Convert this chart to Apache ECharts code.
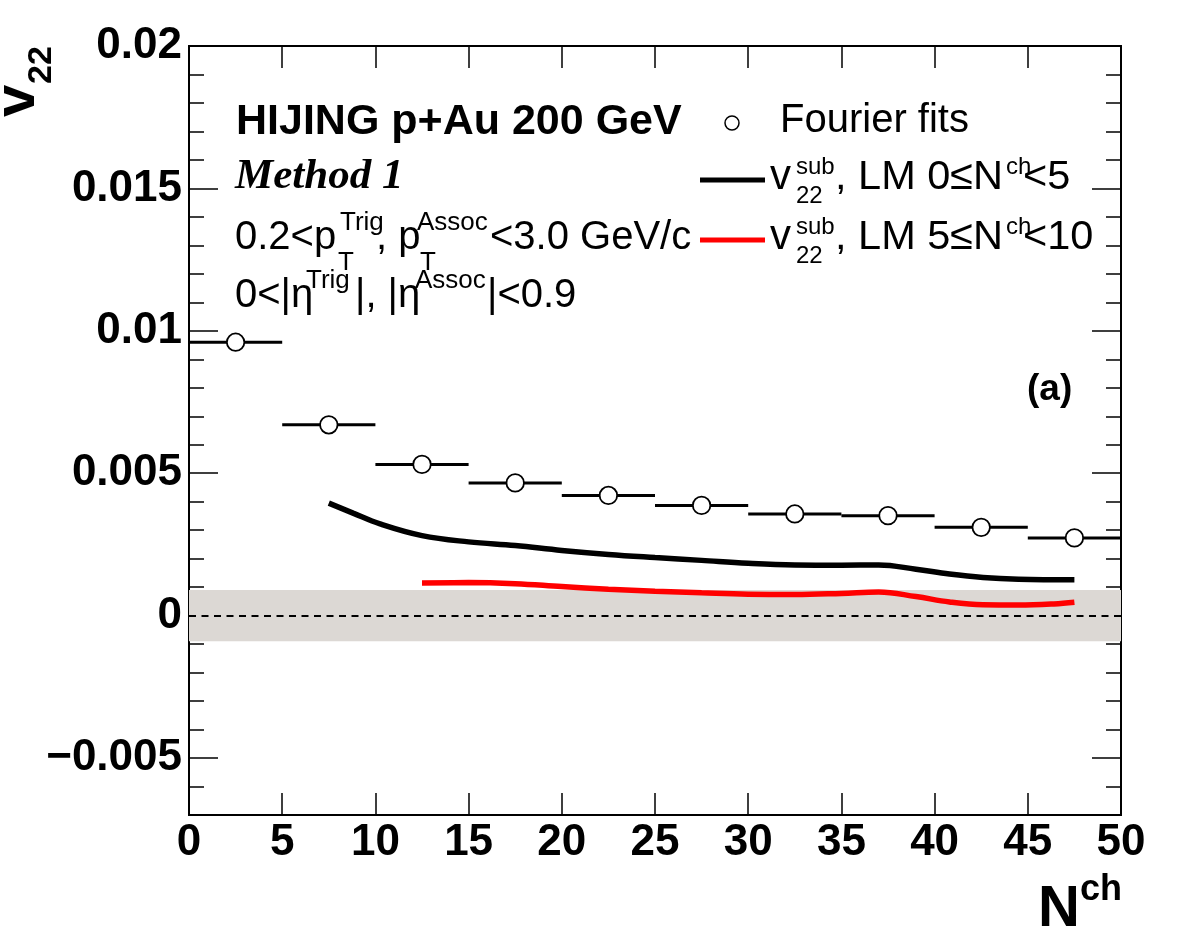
<!DOCTYPE html>
<html>
<head>
<meta charset="utf-8">
<title>v22 vs Nch - HIJING p+Au</title>
<script src="https://cdn.jsdelivr.net/npm/echarts@6/dist/echarts.min.js"></script>
<style>
  html, body { margin: 0; padding: 0; background: #fff; }
  #chart { width: 1182px; height: 938px; }
</style>
</head>
<body>
<div id="chart"></div>
<script>
// Fourier fit points (bin centres, half bin width, value, stat error)
const binCenters = [2.5, 7.5, 12.5, 17.5, 22.5, 27.5, 32.5, 37.5, 42.5, 47.5];
const binHalfWidth = [2.5, 2.5, 2.5, 2.5, 2.5, 2.5, 2.5, 2.5, 2.5, 2.5];
const fourierV22 = [0.0096, 0.0067, 0.00531, 0.00466, 0.00422, 0.00387, 0.00357, 0.00351, 0.0031, 0.00273];
const fourierErr = [0, 0, 0, 0, 0, 0, 0, 0, 0, 0.0003];

// v22 sub, LM 0<=Nch<5 (black)
const lm0X = [7.5, 8.8, 10.25, 12.5, 15, 17.5, 20, 22.5, 25, 27.5, 30, 32.5, 35, 37, 39, 40.8, 42.6, 44.5, 47.5];
const lm0Y = [0.00395, 0.0036, 0.00322, 0.00281, 0.00259, 0.00246, 0.00229, 0.00215, 0.00204, 0.00194,
              0.00184, 0.00178, 0.00177, 0.00178, 0.00163, 0.00146, 0.00134, 0.00128, 0.00126];

// v22 sub, LM 5<=Nch<10 (red)
const lm5X = [12.5, 15, 17.5, 20, 22.5, 25, 27.5, 30, 32.5, 35, 37, 39, 40.8, 42.6, 44.5, 46.4, 47.5];
const lm5Y = [0.00115, 0.00116, 0.00112, 0.00102, 0.00093, 0.00086, 0.0008, 0.00075, 0.00074, 0.00078,
              0.00083, 0.00067, 0.00048, 0.00038, 0.00037, 0.00041, 0.00047];

// grey band around zero
const zeroBand = [-0.0009, 0.0009];

// axes
const yMajorTicks = [-0.005, 0, 0.005, 0.01, 0.015, 0.02];
const yMinorTicks = [];
for (let i = -7; i <= 20; i++) yMinorTicks.push(i / 1000);

const chart = echarts.init(document.getElementById('chart'));

const SANS = '"Liberation Sans", Arial, sans-serif';
const SERIF = '"Liberation Serif", "Times New Roman", serif';

// text helper, base is the baseline
function txt(x, base, s, size, weight, opts) {
  opts = opts || {};
  return {
    type: 'text',
    x: x,
    y: base - 0.34 * size,
    rotation: opts.rotation || 0,
    z: 100,
    style: {
      text: s,
      font: (opts.italic ? 'italic ' : '') + (weight || 'normal') + ' ' + size + 'px ' + (opts.family || SANS),
      fill: opts.color || '#000',
      textAlign: opts.align || 'left',
      textVerticalAlign: 'middle'
    }
  };
}

function yLabel(v) {
  if (v === 0) return '0';
  if (v < 0) return '\u2212' + String(-v);
  return String(v);
}

const tickLine = { color: '#000', width: 1.5 };
const frameLine = { color: '#000', width: 2 };
const gridBox = { left: 189, right: 61, top: 46, bottom: 123, outerBoundsMode: 'none' };

// y axis with ticks only (labels optional)
function yAx(grid, pos, ticks, len, withLabels) {
  return {
    type: 'value', gridIndex: grid, min: -0.007, max: 0.02, position: pos,
    axisLine: { show: true, onZero: false, lineStyle: frameLine },
    axisTick: { show: true, inside: true, length: len, lineStyle: tickLine, customValues: ticks },
    axisLabel: withLabels ? {
      show: true, margin: 7, color: '#000', fontSize: 44, fontWeight: 'bold', fontFamily: SANS,
      customValues: yMajorTicks, formatter: yLabel
    } : { show: false },
    splitLine: { show: false }
  };
}

const option = {
  animation: false,
  backgroundColor: '#fff',
  grid: [Object.assign({}, gridBox), Object.assign({}, gridBox)],
  xAxis: [
    {
      type: 'value', gridIndex: 0, min: 0, max: 50, interval: 5, position: 'bottom',
      axisLine: { show: true, onZero: false, lineStyle: frameLine },
      axisTick: { show: true, inside: true, length: 22, lineStyle: tickLine },
      axisLabel: { show: true, margin: 6, color: '#000', fontSize: 44, fontWeight: 'bold', fontFamily: SANS },
      splitLine: { show: false }
    },
    {
      type: 'value', gridIndex: 1, min: 0, max: 50, interval: 5, position: 'top',
      axisLine: { show: true, onZero: false, lineStyle: frameLine },
      axisTick: { show: true, inside: true, length: 22, lineStyle: tickLine },
      axisLabel: { show: false },
      splitLine: { show: false }
    }
  ],
  yAxis: [
    yAx(0, 'left', yMinorTicks, 15, true),
    yAx(0, 'right', yMinorTicks, 15, false),
    yAx(1, 'left', yMajorTicks, 29, false),
    yAx(1, 'right', yMajorTicks, 29, false)
  ],
  series: [
    {
      // band and dashed zero line
      type: 'line', data: [], z: 1, silent: true, xAxisIndex: 0, yAxisIndex: 0,
      markArea: {
        silent: true,
        itemStyle: { color: '#dcd8d4' },
        data: [[{ yAxis: zeroBand[0] }, { yAxis: zeroBand[1] }]]
      },
      markLine: {
        silent: true, symbol: 'none',
        label: { show: false },
        lineStyle: { color: '#000', type: [7, 5.5], width: 2.2 },
        data: [{ yAxis: 0 }]
      }
    },
    {
      type: 'line', name: 'LM 0-5', z: 3, xAxisIndex: 0, yAxisIndex: 0,
      data: lm0X.map((x, i) => [x, lm0Y[i]]),
      showSymbol: false, smooth: 0.4,
      lineStyle: { color: '#000', width: 5.5, cap: 'butt' }
    },
    {
      type: 'line', name: 'LM 5-10', z: 3, xAxisIndex: 0, yAxisIndex: 0,
      data: lm5X.map((x, i) => [x, lm5Y[i]]),
      showSymbol: false, smooth: 0.4,
      lineStyle: { color: '#ff0000', width: 5.5, cap: 'butt' }
    },
    {
      // error bars
      type: 'custom', z: 4, xAxisIndex: 0, yAxisIndex: 0,
      data: binCenters.map((x, i) => [x, fourierV22[i], binHalfWidth[i], fourierErr[i]]),
      renderItem: function (params, api) {
        const x = api.value(0), y = api.value(1), xe = api.value(2), ye = api.value(3);
        const l = api.coord([x - xe, y]);
        const r = api.coord([x + xe, y]);
        const children = [{
          type: 'line',
          shape: { x1: l[0], y1: l[1], x2: r[0], y2: r[1] },
          style: { stroke: '#000', lineWidth: 3 }
        }];
        if (ye > 0) {
          const t = api.coord([x, y + ye]);
          const b = api.coord([x, y - ye]);
          children.push({
            type: 'line',
            shape: { x1: t[0], y1: t[1], x2: b[0], y2: b[1] },
            style: { stroke: '#000', lineWidth: 2.5 }
          });
        }
        return { type: 'group', children: children };
      }
    },
    {
      type: 'scatter', name: 'Fourier fits', z: 5, xAxisIndex: 0, yAxisIndex: 0,
      data: binCenters.map((x, i) => [x, fourierV22[i]]),
      symbol: 'circle', symbolSize: 17.5,
      itemStyle: { color: '#fff', borderColor: '#000', borderWidth: 1.8, opacity: 1 }
    }
  ],
  graphic: [
    // y axis title v_22 (rotated)
    txt(18, 117 + 0.34 * 58, 'v', 58, 'bold', { rotation: Math.PI / 2 }),
    txt(42, 84 + 0.34 * 34, '22', 34, 'bold', { rotation: Math.PI / 2 }),

    // x axis title N^ch
    txt(1080, 930, 'N', 58, 'bold', { align: 'right' }),
    txt(1122, 902, 'ch', 36, 'bold', { align: 'right' }),

    // annotations
    txt(236, 137, 'HIJING p+Au 200 GeV', 43, 'bold'),
    txt(235, 192, 'Method 1', 43, 'bold', { italic: true, family: SERIF }),

    txt(235, 252, '0.2<p', 40),
    txt(340, 232, 'Trig', 26),
    txt(338, 272, 'T', 26),
    txt(376, 252, ', p', 40),
    txt(417, 232, 'Assoc', 26),
    txt(420, 272, 'T', 26),
    txt(490, 252, '<3.0 GeV/c', 40),

    txt(235, 310, '0<|\u03b7', 40),
    txt(306, 290, 'Trig', 26),
    txt(355, 310, '|, |\u03b7', 40),
    txt(415, 290, 'Assoc', 26),
    txt(487, 310, '|<0.9', 40),

    txt(1027, 402, '(a)', 37, 'bold'),

    // legend
    {
      type: 'circle', z: 100,
      shape: { cx: 732, cy: 123, r: 7 },
      style: { fill: '#fff', stroke: '#000', lineWidth: 1.5 }
    },
    txt(780, 135, 'Fourier fits', 40),

    {
      type: 'line', z: 100,
      shape: { x1: 700, y1: 180, x2: 765, y2: 180 },
      style: { stroke: '#000', lineWidth: 5 }
    },
    txt(770, 192, 'v', 42),
    txt(796, 176, 'sub', 24),
    txt(796, 205, '22', 24),
    txt(835, 192, ', LM 0\u2264N', 41.5),
    txt(1006, 176, 'ch', 24),
    txt(1023, 192, '<5', 41.5),

    {
      type: 'line', z: 100,
      shape: { x1: 700, y1: 240, x2: 765, y2: 240 },
      style: { stroke: '#ff0000', lineWidth: 5 }
    },
    txt(770, 252, 'v', 42),
    txt(796, 236, 'sub', 24),
    txt(796, 265, '22', 24),
    txt(835, 252, ', LM 5\u2264N', 41.5),
    txt(1006, 236, 'ch', 24),
    txt(1023, 252, '<10', 41.5)
  ]
};

chart.setOption(option);
window.addEventListener('resize', () => chart.resize());
</script>
</body>
</html>
